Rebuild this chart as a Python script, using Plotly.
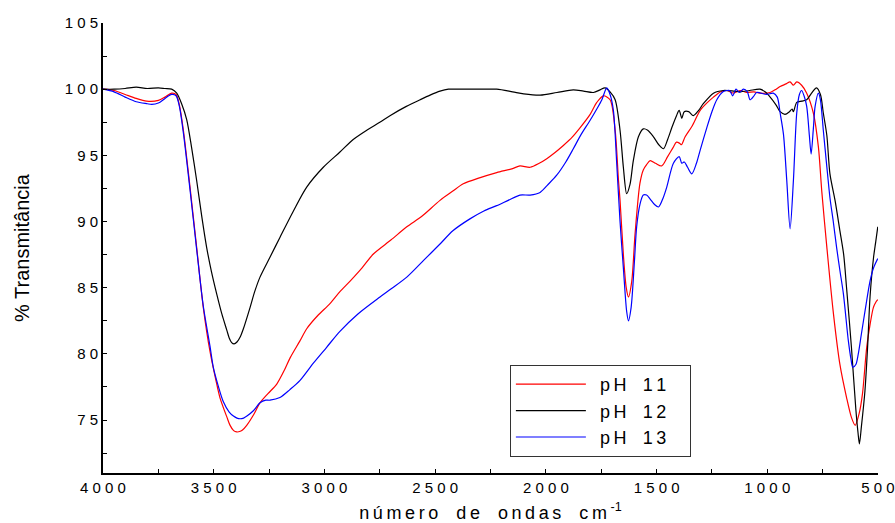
import plotly.graph_objects as go

# ---------------- data ----------------
w_ph11 = [4000, 3950, 3900, 3850, 3803, 3750, 3720, 3690, 3670, 3655, 3637, 3607, 3577, 3547,
          3517, 3490, 3472, 3440, 3426, 3410, 3396, 3380, 3370, 3351, 3320, 3291, 3255, 3216, 3180, 3155,
          3110, 3080, 3030, 2975, 2930, 2884, 2830, 2779, 2700, 2628, 2560, 2478, 2420, 2373,
          2300, 2222, 2150, 2117, 2071, 2030, 1996, 1960, 1921, 1880, 1845, 1800, 1770, 1740,
          1710, 1687, 1672, 1665, 1650, 1637, 1627, 1612, 1597, 1575, 1560, 1545, 1529, 1505,
          1477, 1450, 1425, 1410, 1395, 1388, 1371, 1340, 1303, 1270, 1243, 1210, 1183, 1153,
          1122, 1093, 1060, 1033, 987, 960, 942, 915, 897, 882, 867, 845, 822, 792, 769, 754,
          731, 701, 672, 642, 620, 603, 585, 570, 551, 535, 521, 510, 501]
t_ph11 = [100.0, 99.9, 99.6, 99.3, 99.1, 99.15, 99.4, 99.7, 99.6, 98.8, 96.9, 92.6, 88.05, 83.5,
          80.2, 78.0, 76.7, 75.2, 74.6, 74.2, 74.1, 74.15, 74.25, 74.6, 75.4, 76.3, 77.0, 77.7, 78.8, 79.7,
          81.0, 81.9, 82.9, 83.8, 84.7, 85.5, 86.5, 87.55, 88.6, 89.6, 90.4, 91.6, 92.3, 92.85,
          93.3, 93.7, 94.0, 94.2, 94.1, 94.4, 94.75, 95.2, 95.75, 96.4, 97.1, 98.1, 99.0, 99.5,
          99.2, 96.9, 93.1, 91.6, 87.5, 85.0, 84.3, 85.5, 89.1, 92.9, 93.9, 94.3, 94.6, 94.4,
          94.2, 94.9, 95.6, 96.0, 95.9, 95.8, 96.4, 97.2, 98.4, 99.0, 99.4, 99.8, 99.9, 99.7,
          99.9, 99.75, 99.8, 99.7, 99.75, 100.0, 100.2, 100.4, 100.55, 100.3, 100.55, 100.3, 99.7, 98.2, 95.6, 92.3,
          88.05, 83.0, 79.2, 76.7, 75.2, 74.6, 75.5, 77.0, 80.5, 82.3, 83.5, 83.9, 84.1]

w_ph12 = [4000, 3950, 3900, 3850, 3800, 3750, 3720, 3690, 3667, 3645, 3622, 3600, 3577, 3555,
          3532, 3510, 3486, 3463, 3441, 3430, 3419, 3408, 3395, 3380, 3366, 3336, 3315, 3291, 3246, 3201, 3140,
          3080, 3005, 2930, 2870, 2809, 2750, 2704, 2630, 2568, 2523, 2478, 2440, 2400, 2300, 2222,
          2150, 2100, 2026, 1950, 1876, 1830, 1785, 1755, 1733, 1710, 1687, 1665, 1650, 1635,
          1620, 1605, 1582, 1560, 1540, 1514, 1490, 1469, 1450, 1431, 1410, 1398, 1386, 1375,
          1355, 1334, 1310, 1289, 1243, 1198, 1150, 1122, 1080, 1033, 1010, 987, 960, 942, 920,
          900, 888, 882, 867, 845, 822, 800, 778, 760, 747, 731, 717, 694, 672, 655, 642, 620,
          600, 590, 584, 575, 559, 547, 536, 520, 510, 501]
t_ph12 = [100.0, 100.0, 100.05, 100.15, 100.05, 100.1, 100.05, 100.0, 99.7, 98.9, 97.7, 95.6, 93.1, 90.5,
          88.05, 86.2, 84.5, 83.0, 81.8, 81.2, 80.85, 80.75, 80.9, 81.3, 81.9, 83.5, 84.7, 85.8, 87.3, 88.8, 90.8,
          92.6, 94.1, 95.25, 96.2, 96.9, 97.5, 98.0, 98.7, 99.2, 99.55, 99.85, 100.0, 100.0, 100.0, 100.0,
          99.8, 99.65, 99.55, 99.75, 99.95, 99.85, 99.75, 99.95, 100.1, 99.8, 99.2, 96.9, 94.1, 92.1,
          92.8, 94.6, 96.4, 97.0, 96.9, 96.4, 95.8, 95.5, 96.2, 97.1, 98.0, 98.4, 97.8, 98.3,
          98.3, 98.0, 98.4, 98.9, 99.7, 99.9, 99.85, 99.8, 99.9, 100.0, 99.8, 99.4, 98.8, 98.3, 98.1,
          98.3, 98.5, 98.3, 99.0, 99.1, 99.2, 99.7, 100.1, 99.6, 98.2, 96.5, 93.6, 91.6, 89.3, 87.5, 85.0, 80.5,
          75.8, 74.0, 73.2, 74.5, 77.2, 80.5, 84.3, 87.3, 88.5, 89.6]

w_ph13 = [4000, 3950, 3900, 3850, 3800, 3780, 3750, 3720, 3690, 3670, 3655, 3637, 3607, 3577,
          3547, 3517, 3502, 3480, 3457, 3430, 3411, 3395, 3381, 3365, 3350, 3321, 3291, 3265, 3246, 3201,
          3156, 3110, 3050, 2990, 2930, 2850, 2749, 2700, 2628, 2550, 2478, 2420, 2343, 2280,
          2222, 2170, 2117, 2071, 2026, 1990, 1951, 1910, 1876, 1840, 1800, 1770, 1747, 1725,
          1710, 1695, 1680, 1665, 1650, 1635, 1627, 1615, 1600, 1590, 1575, 1560, 1545, 1529,
          1510, 1491, 1470, 1454, 1424, 1398, 1386, 1375, 1360, 1341, 1320, 1303, 1273, 1250,
          1228, 1200, 1183, 1170, 1156, 1141, 1126, 1108, 1090, 1078, 1060, 1048, 1003, 973,
          955, 942, 927, 912, 897, 882, 867, 855, 845, 834, 822, 810, 802, 792, 784, 769, 760,
          747, 732, 717, 702, 687, 672, 656, 634, 622, 614, 600, 589, 575, 558, 536, 520, 501]
t_ph13 = [100.0, 99.8, 99.4, 99.05, 98.9, 98.85, 98.95, 99.3, 99.6, 99.5, 98.7, 96.7, 92.4, 87.9,
          83.6, 80.6, 79.0, 77.6, 76.4, 75.6, 75.3, 75.15, 75.1, 75.15, 75.3, 75.7, 76.3, 76.5, 76.5, 76.7,
          77.3, 78.0, 79.3, 80.5, 81.7, 83.0, 84.3, 84.9, 85.8, 87.1, 88.3, 89.3, 90.2, 90.8,
          91.2, 91.6, 92.0, 92.0, 92.2, 92.8, 93.5, 94.5, 95.5, 96.6, 97.65, 98.5, 99.2, 100.1,
          99.6, 98.4, 94.4, 90.0, 86.5, 83.2, 82.5, 83.5, 87.0, 89.6, 91.3, 92.0, 92.0, 91.7,
          91.3, 91.1, 91.8, 92.6, 94.4, 94.9, 94.4, 94.5, 94.1, 93.6, 94.4, 95.4, 97.1, 98.3,
          99.2, 99.8, 99.9, 99.9, 99.5, 100.0, 99.75, 100.0, 99.8, 99.2, 99.5, 99.75, 99.6, 99.7,
          99.4, 98.2, 96.6, 93.1, 89.45, 93.1, 98.2, 99.6, 99.9, 99.5, 98.7, 96.5, 95.1, 97.0, 98.7, 99.7, 99.2,
          96.9, 94.3, 91.8, 90.0, 88.05, 86.3, 84.5, 81.0, 79.6, 79.0, 79.2, 80.0, 81.5, 83.3, 85.5, 86.5, 87.2]

series_names = ["\u2002p\u2009H\u2002\u2009\u20091\u20091\u2003",
                "\u2002p\u2009H\u2002\u2009\u20091\u20092\u2003",
                "\u2002p\u2009H\u2002\u2009\u20091\u20093\u2003"]
series_colors = ["#ff0000", "#000000", "#0000ff"]

x_ticks = [4000, 3500, 3000, 2500, 2000, 1500, 1000, 500]
x_minor = [3750, 3250, 2750, 2250, 1750, 1250, 750]
y_ticks = [75, 80, 85, 90, 95, 100, 105]
y_minor = [72.5, 77.5, 82.5, 87.5, 92.5, 97.5, 102.5]


def spaced(v):
    return " ".join(str(v))


fig = go.Figure()
for wx, ty, nm, col in zip([w_ph11, w_ph12, w_ph13], [t_ph11, t_ph12, t_ph13],
                           series_names, series_colors):
    fig.add_trace(go.Scatter(x=wx, y=ty, mode="lines", name=nm,
                             line=dict(color=col, width=1.2, shape="spline", smoothing=0.8)))

axis_font = dict(family="Arial, Liberation Sans, sans-serif", size=15, color="black")

fig.update_layout(
    width=895, height=523,
    margin=dict(l=103, r=17, t=23, b=50, autoexpand=False),
    paper_bgcolor="white", plot_bgcolor="white",
    font=dict(family="Arial, Liberation Sans, sans-serif", color="black"),
    showlegend=True,
    legend=dict(x=0.525, y=0.24, xanchor="left", yanchor="top",
                bordercolor="#333333", borderwidth=1, bgcolor="white",
                font=dict(size=18, family="Arial, Liberation Sans, sans-serif", color="black"),
                itemwidth=70, tracegroupgap=0),
    xaxis=dict(range=[4000, 500], showgrid=False, zeroline=False,
               showline=True, linecolor="black", linewidth=2,
               ticks="inside", ticklen=4, tickwidth=1, tickcolor="black",
               tickmode="array", tickvals=x_ticks, ticktext=[spaced(v) for v in x_ticks],
               tickfont=axis_font,
               minor=dict(tickmode="array", tickvals=x_minor, ticks="inside",
                          ticklen=4, tickwidth=1, tickcolor="black"),
               title=dict(text="n\u2009ú\u2009m\u2009e\u2009r\u2009o\u2003d\u2009e\u2003o\u2009n\u2009d\u2009a\u2009s\u2003c\u2009m\u2009<sup>-1</sup>",
                          font=dict(size=18, color="black"), standoff=13),
               automargin=False),
    yaxis=dict(range=[71, 105], showgrid=False, zeroline=False,
               showline=True, linecolor="black", linewidth=2,
               ticks="inside", ticklen=4, tickwidth=1, tickcolor="black",
               tickmode="array", tickvals=y_ticks, ticktext=[spaced(v) for v in y_ticks],
               tickfont=axis_font,
               minor=dict(tickmode="array", tickvals=y_minor, ticks="inside",
                          ticklen=4, tickwidth=1, tickcolor="black"),
               title=dict(text="% Transmitância", font=dict(size=20, color="black"), standoff=30),
               automargin=False),
)

fig.write_html("out.html")
